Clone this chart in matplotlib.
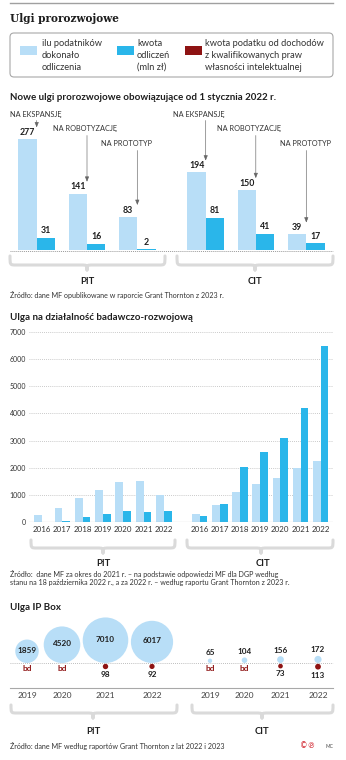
import matplotlib
matplotlib.use('Agg')
import matplotlib.pyplot as plt
from matplotlib.patches import FancyBboxPatch, Rectangle, Circle, PathPatch
from matplotlib.path import Path
import numpy as np

plt.rcParams['font.family'] = ['Lato', 'DejaVu Sans']

# ---------------- data ----------------
relief_names = ['NA EKSPANSJĘ', 'NA ROBOTYZACJĘ', 'NA PROTOTYP']
pit_new_count = [277, 141, 83]
pit_new_amount = [31, 16, 2]
cit_new_count = [194, 150, 39]
cit_new_amount = [81, 41, 17]

rd_years = ['2016', '2017', '2018', '2019', '2020', '2021', '2022']
rd_pit_count = [240, 510, 880, 1180, 1460, 1500, 1010]
rd_pit_amount = [10, 37, 170, 280, 390, 380, 400]
rd_cit_count = [290, 610, 1090, 1400, 1620, 2000, 2260]
rd_cit_amount = [230, 670, 2010, 2590, 3090, 4210, 6480]
rd_yticks = [0, 1000, 2000, 3000, 4000, 5000, 6000, 7000]

ip_years = ['2019', '2020', '2021', '2022']
ip_pit_count = [1859, 4520, 7010, 6017]
ip_pit_tax = [None, None, 98, 92]
ip_cit_count = [65, 104, 156, 172]
ip_cit_tax = [None, None, 73, 113]

LIGHT = '#b8def7'
DARK = '#2ab6ea'
RED = '#8e1313'
TXT = '#1e1e1e'
BRACE = '#dadada'

W, H = 346, 760
fig = plt.figure(figsize=(W / 100, H / 100), dpi=100)
fig.patch.set_facecolor('white')


def px_axes(x0, y0, x1, y1):
    a = fig.add_axes([x0 / W, 1 - y1 / H, (x1 - x0) / W, (y1 - y0) / H])
    a.set_facecolor('none')
    return a


bg = px_axes(0, 0, W, H)
bg.set_xlim(0, W)
bg.set_ylim(H, 0)
bg.axis('off')


def brace(x0, x1, xc, ytop, ymid, ybot, r=6):
    verts = [(x0, ytop), (x0, ymid), (x0, ymid), (x0 + r, ymid),
             (xc - r, ymid), (xc, ymid), (xc, ymid), (xc, ybot),
             (xc, ymid), (xc, ymid), (xc + r, ymid),
             (x1 - r, ymid), (x1, ymid), (x1, ymid), (x1, ytop)]
    codes = [Path.MOVETO, Path.CURVE4, Path.CURVE4, Path.CURVE4,
             Path.LINETO, Path.CURVE4, Path.CURVE4, Path.CURVE4,
             Path.CURVE4, Path.CURVE4, Path.CURVE4,
             Path.LINETO, Path.CURVE4, Path.CURVE4, Path.CURVE4]
    bg.add_patch(PathPatch(Path(verts, codes), fill=False, edgecolor=BRACE,
                           lw=2.2, capstyle='round', joinstyle='round'))


# ---------------- header ----------------
bg.plot([10, 333], [3, 3], color='#a0a0a0', lw=1.0)
bg.text(10, 18, 'Ulgi prorozwojowe', family='DejaVu Serif', fontweight='bold',
        fontsize=7.6, color=TXT, va='center', ha='left')

bg.add_patch(FancyBboxPatch((10, 33), 323, 44, boxstyle='round,pad=0,rounding_size=4',
                            facecolor='white', edgecolor='#a8a8a8', lw=0.8))
leg = [(20, LIGHT, 42, ['ilu podatników', 'dokonało', 'odliczenia']),
       (117, DARK, 137, ['kwota', 'odliczeń', '(mln zł)']),
       (185, RED, 205, ['kwota podatku od dochodów', 'z kwalifikowanych praw',
                        'własności intelektualnej'])]
for sx, col, tx, lines in leg:
    bg.add_patch(Rectangle((sx, 46), 17, 9, facecolor=col, edgecolor='none'))
    for i, ln in enumerate(lines):
        bg.text(tx, 44 + 11.7 * i, ln, fontsize=6.7, color='#333333', va='center', ha='left')

# ---------------- section 1 ----------------
bg.text(10, 98, 'Nowe ulgi prorozwojowe obowiązujące od 1 stycznia 2022 r.',
        fontsize=7.0, fontweight='bold', color=TXT, va='center', ha='left')

ax1 = px_axes(10, 100, 333, 250)
ax1.set_xlim(10, 333)
ax1.set_ylim(0, 375)
ax1.axis('off')
bw = 18.3
xb_pit = np.array([36.7, 87.0, 137.3])
xb_cit = np.array([205.7, 255.8, 306.3])
label_x = {('pit', 0): 10, ('pit', 1): 53, ('pit', 2): 101,
           ('cit', 0): 173, ('cit', 1): 217, ('cit', 2): 280}
label_y = [114, 129, 144]
for key, xb, cnt, amt in [('pit', xb_pit, pit_new_count, pit_new_amount),
                          ('cit', xb_cit, cit_new_count, cit_new_amount)]:
    ax1.bar(xb - bw / 2, cnt, bw, color=LIGHT, linewidth=0)
    ax1.bar(xb + bw / 2, amt, bw, color=DARK, linewidth=0)
    for i in range(3):
        ax1.annotate(str(cnt[i]), (xb[i] - bw / 2, cnt[i]), xytext=(0, 1.6),
                     textcoords='offset points', ha='center', va='bottom',
                     fontsize=6.3, fontweight='bold', color=TXT)
        ax1.annotate(str(amt[i]), (xb[i] + bw / 2, amt[i]), xytext=(0, 1.6),
                     textcoords='offset points', ha='center', va='bottom',
                     fontsize=6.3, fontweight='bold', color=TXT)
        bg.text(label_x[(key, i)], label_y[i], relief_names[i], fontsize=5.3,
                color='#333333', va='center', ha='left')
        ax1.annotate('', xy=(xb[i], cnt[i]), xytext=(xb[i], label_y[i] + 6.5),
                     textcoords=bg.transData,
                     arrowprops=dict(arrowstyle='-|>,head_length=0.3,head_width=0.12',
                                     color='#666666', lw=0.45, shrinkA=0, shrinkB=8.5),
                     annotation_clip=False)

bg.plot([10, 333], [250.5, 250.5], color='#9a9a9a', lw=0.7, ls=(0, (1, 1)))
brace(10, 165, 87, 256, 265, 270)
brace(177, 333, 255, 256, 265, 270)
bg.text(87, 282, 'PIT', fontsize=6.8, fontweight='bold', color=TXT, ha='center', va='center')
bg.text(255, 282, 'CIT', fontsize=6.8, fontweight='bold', color=TXT, ha='center', va='center')
bg.text(10, 295, 'Źródło: dane MF opublikowane w raporcie Grant Thornton z 2023 r.',
        fontsize=5.1, color='#333333', ha='left', va='center')

# ---------------- section 2 ----------------
bg.text(10, 317, 'Ulga na działalność badawczo-rozwojową',
        fontsize=7.0, fontweight='bold', color=TXT, va='center', ha='left')
ax2 = px_axes(29, 332, 333, 522)
ax2.set_xlim(29, 333)
ax2.set_ylim(0, 7000)
for s in ax2.spines.values():
    s.set_visible(False)
gp = np.arange(len(rd_years))
c_pit = 42.0 + 20.3 * gp
c_cit = 199.5 + 20.2 * gp
bw2 = 7.8
ax2.bar(c_pit - bw2 / 2, rd_pit_count, bw2, color=LIGHT, linewidth=0, zorder=2)
ax2.bar(c_pit + bw2 / 2, rd_pit_amount, bw2, color=DARK, linewidth=0, zorder=2)
ax2.bar(c_cit - bw2 / 2, rd_cit_count, bw2, color=LIGHT, linewidth=0, zorder=2)
ax2.bar(c_cit + bw2 / 2, rd_cit_amount, bw2, color=DARK, linewidth=0, zorder=2)
ax2.set_yticks(rd_yticks)
ax2.set_yticklabels([str(v) for v in rd_yticks], fontsize=5.0, color='#333333')
ax2.set_xticks(np.concatenate([c_pit, c_cit]))
ax2.set_xticklabels(rd_years + rd_years, fontsize=5.7, color='#333333')
ax2.tick_params(axis='both', length=0)
ax2.tick_params(axis='y', pad=2.2)
ax2.tick_params(axis='x', pad=2.6)
for v in rd_yticks[1:]:
    ax2.axhline(v, color='#b8b8b8', lw=0.6, ls=(0, (1, 1.5)), zorder=1)
ax2.axhline(0, color='#9a9a9a', lw=0.8, zorder=3)

brace(31, 175, 103, 540, 548, 553)
brace(187, 333, 261, 540, 548, 553)
bg.text(103, 563, 'PIT', fontsize=6.8, fontweight='bold', color=TXT, ha='center', va='center')
bg.text(263, 563, 'CIT', fontsize=6.8, fontweight='bold', color=TXT, ha='center', va='center')
bg.text(10, 574, 'Źródło:  dane MF za okres do 2021 r. – na podstawie odpowiedzi MF dla DGP według',
        fontsize=5.1, color='#333333', ha='left', va='center')
bg.text(10, 582, 'stanu na 18 października 2022 r., a za 2022 r. – według raportu Grant Thornton z 2023 r.',
        fontsize=5.1, color='#333333', ha='left', va='center')

# ---------------- section 3 ----------------
bg.text(10, 607, 'Ulga IP Box', fontsize=7.0, fontweight='bold', color=TXT, va='center', ha='left')
ax3 = px_axes(0, 612, W, 692)
ax3.set_xlim(0, W)
ax3.set_ylim(692, 612)
ax3.axis('off')
LINE_Y = 663
k = 0.272
ip_x_pit = [27, 62, 105.5, 152]
ip_x_cit = [210, 244.5, 280.5, 318]
ax3.hlines(LINE_Y, 10, 333, color='#a8a8a8', lw=0.6, ls=(0, (1, 1.5)), zorder=1)
for grp, xs, cnts, taxes in [('pit', ip_x_pit, ip_pit_count, ip_pit_tax),
                             ('cit', ip_x_cit, ip_cit_count, ip_cit_tax)]:
    for x, c, t in zip(xs, cnts, taxes):
        r = k * np.sqrt(c)
        ax3.add_patch(Circle((x, LINE_Y - r), r, facecolor=LIGHT, edgecolor='none', zorder=2))
        if grp == 'pit':
            ax3.text(x, LINE_Y - r - 1, f'{c}', fontsize=5.9, fontweight='bold', color=TXT,
                     ha='center', va='center', zorder=3)
        else:
            ax3.text(x, LINE_Y - 2 * r - 2.5, f'{c}', fontsize=5.9, fontweight='bold', color=TXT,
                     ha='center', va='bottom', zorder=3)
        if t is None:
            ax3.text(x, 668.5, 'bd', fontsize=6.0, fontweight='bold', color=RED,
                     ha='center', va='center', zorder=3)
        else:
            rt = k * np.sqrt(t)
            ax3.add_patch(Circle((x, LINE_Y + 0.8 + rt), rt, facecolor=RED, edgecolor='none', zorder=2))
            ax3.text(x, LINE_Y + 0.8 + 2 * rt + 2, f'{t}', fontsize=5.9, fontweight='bold', color=TXT,
                     ha='center', va='top', zorder=3)

bg.plot([10, 333], [688, 688], color='#a8a8a8', lw=0.8)
for xs in (ip_x_pit, ip_x_cit):
    for x, yr in zip(xs, ip_years):
        bg.text(x, 696, yr, fontsize=6.1, color='#444444', ha='center', va='center')

brace(11, 177, 93, 705, 713, 718)
brace(192, 333, 262, 705, 713, 718)
bg.text(93, 731, 'PIT', fontsize=6.8, fontweight='bold', color=TXT, ha='center', va='center')
bg.text(262, 731, 'CIT', fontsize=6.8, fontweight='bold', color=TXT, ha='center', va='center')
bg.text(10, 746, 'Źródło: dane MF według raportów Grant Thornton z lat 2022 i 2023',
        fontsize=5.1, color='#333333', ha='left', va='center')
bg.text(300, 746, '©℗', fontsize=5.5, color='#d0202a', ha='left', va='center',
        family=['DejaVu Sans'])
bg.text(325, 746, 'MC', fontsize=3.5, color='#444444', ha='left', va='center')

fig.savefig('out.png', dpi=100, facecolor='white')
